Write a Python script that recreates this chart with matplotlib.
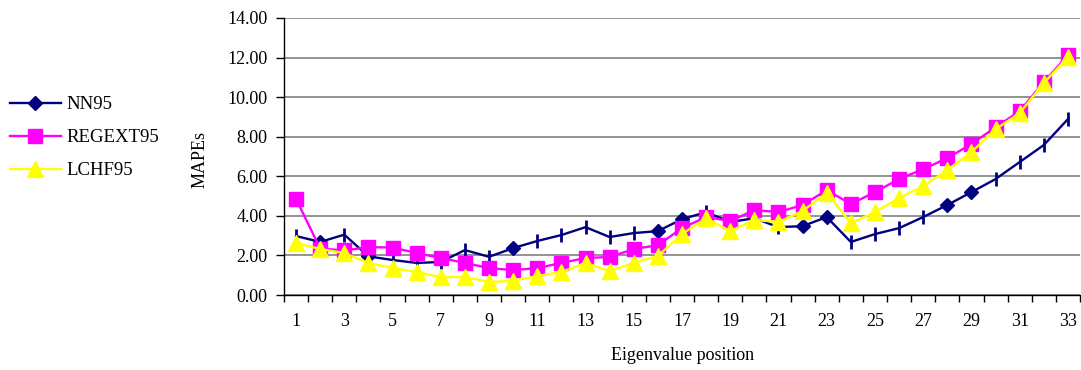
import matplotlib.pyplot as plt
import numpy as np

plt.rcParams['font.family'] = ['Liberation Serif', 'DejaVu Serif']

# Data
positions = np.arange(1, 34)
nn95 = [2.98, 2.68, 3.05, 1.95, 1.77, 1.62, 1.67, 2.27, 1.93, 2.37,
        2.73, 3.03, 3.43, 2.93, 3.13, 3.23, 3.83, 4.19, 3.69, 3.88,
        3.43, 3.48, 3.94, 2.68, 3.08, 3.38, 3.94, 4.55, 5.20, 5.86,
        6.72, 7.58, 8.89]
regext95 = [4.85, 2.35, 2.25, 2.42, 2.40, 2.12, 1.87, 1.62, 1.36, 1.26,
            1.36, 1.62, 1.87, 1.92, 2.32, 2.52, 3.38, 3.94, 3.74, 4.29,
            4.19, 4.55, 5.30, 4.60, 5.20, 5.86, 6.36, 6.92, 7.63, 8.48,
            9.29, 10.76, 12.12]
lchf95 = [2.63, 2.32, 2.12, 1.62, 1.36, 1.16, 0.91, 0.91, 0.66, 0.71,
          0.96, 1.16, 1.62, 1.21, 1.62, 1.97, 3.08, 3.88, 3.23, 3.79,
          3.69, 4.24, 5.17, 3.63, 4.19, 4.90, 5.50, 6.31, 7.22, 8.38,
          9.19, 10.71, 12.02]
# points of NN95 drawn with a diamond (the others show a bar)
nn_diamond = [1, 3, 9, 15, 16, 21, 22, 27, 28]

navy = '#000080'
magenta = '#FF00FF'
yellow = '#FFFF00'
fs = 13

fig = plt.figure(figsize=(10.81, 3.70), dpi=100)
ax = fig.add_axes([284 / 1081, 1 - 295 / 370, 796 / 1081, 277 / 370])

# NN95: line, diamonds on some points, bars on the rest
ax.plot(positions, nn95, color=navy, lw=1.7, zorder=3)
nn_bar = [i for i in range(len(nn95)) if i not in nn_diamond]
ax.plot(positions, nn95, ls='none', marker='|', ms=10, mew=2,
        color=navy, markevery=nn_bar, zorder=3)
ax.plot(positions, nn95, ls='none', marker='D', ms=7,
        color=navy, markevery=nn_diamond, zorder=3)

ax.plot(positions, regext95, color=magenta, lw=1.7, marker='s', ms=10,
        zorder=4)
ax.plot(positions, lchf95, color=yellow, lw=1.7, marker='^', ms=11,
        zorder=5)

ax.set_xlim(0.5, 33.5)
ax.set_ylim(0, 14)
ax.set_yticks(np.arange(0, 15, 2))
ax.set_yticklabels(['%.2f' % v for v in np.arange(0, 15, 2)], fontsize=fs)
ax.set_xticks(positions[::2])
ax.set_xticklabels([str(p) for p in positions[::2]], fontsize=fs)
ax.set_xticks(np.arange(0.5, 34, 1), minor=True)
ax.tick_params(axis='x', which='major', length=0, pad=13)
ax.tick_params(axis='x', which='minor', length=5, width=1, direction='out')
ax.tick_params(axis='y', length=6, width=1, direction='out', pad=6)

ax.grid(axis='y', color='#808080', lw=1.2)
ax.set_axisbelow(True)
for s in ['top', 'right']:
    ax.spines[s].set_visible(False)
for s in ['left', 'bottom']:
    ax.spines[s].set_color('black')
    ax.spines[s].set_linewidth(1)

# axis titles
fig.text(200 / 1081, 1 - 160 / 370, 'MAPEs', rotation=90, fontsize=fs,
         ha='center', va='center')
fig.text(683 / 1081, 1 - 356 / 370, 'Eigenvalue position', fontsize=fs,
         ha='center', va='center')

# Legend on the left
h1, = plt.plot([], [], color=navy, lw=1.7, marker='D', ms=7)
h2, = plt.plot([], [], color=magenta, lw=1.7, marker='s', ms=10)
h3, = plt.plot([], [], color=yellow, lw=1.7, marker='^', ms=11)
fig.legend([h1, h2, h3], ['NN95', 'REGEXT95', 'LCHF95'],
           loc='upper left', bbox_to_anchor=(10 / 1081, 1 - 96 / 370),
           frameon=False, fontsize=13.5, handlelength=2.7,
           handletextpad=0.3, labelspacing=0.85, borderpad=0,
           borderaxespad=0)

fig.savefig('out.png', dpi=100)
